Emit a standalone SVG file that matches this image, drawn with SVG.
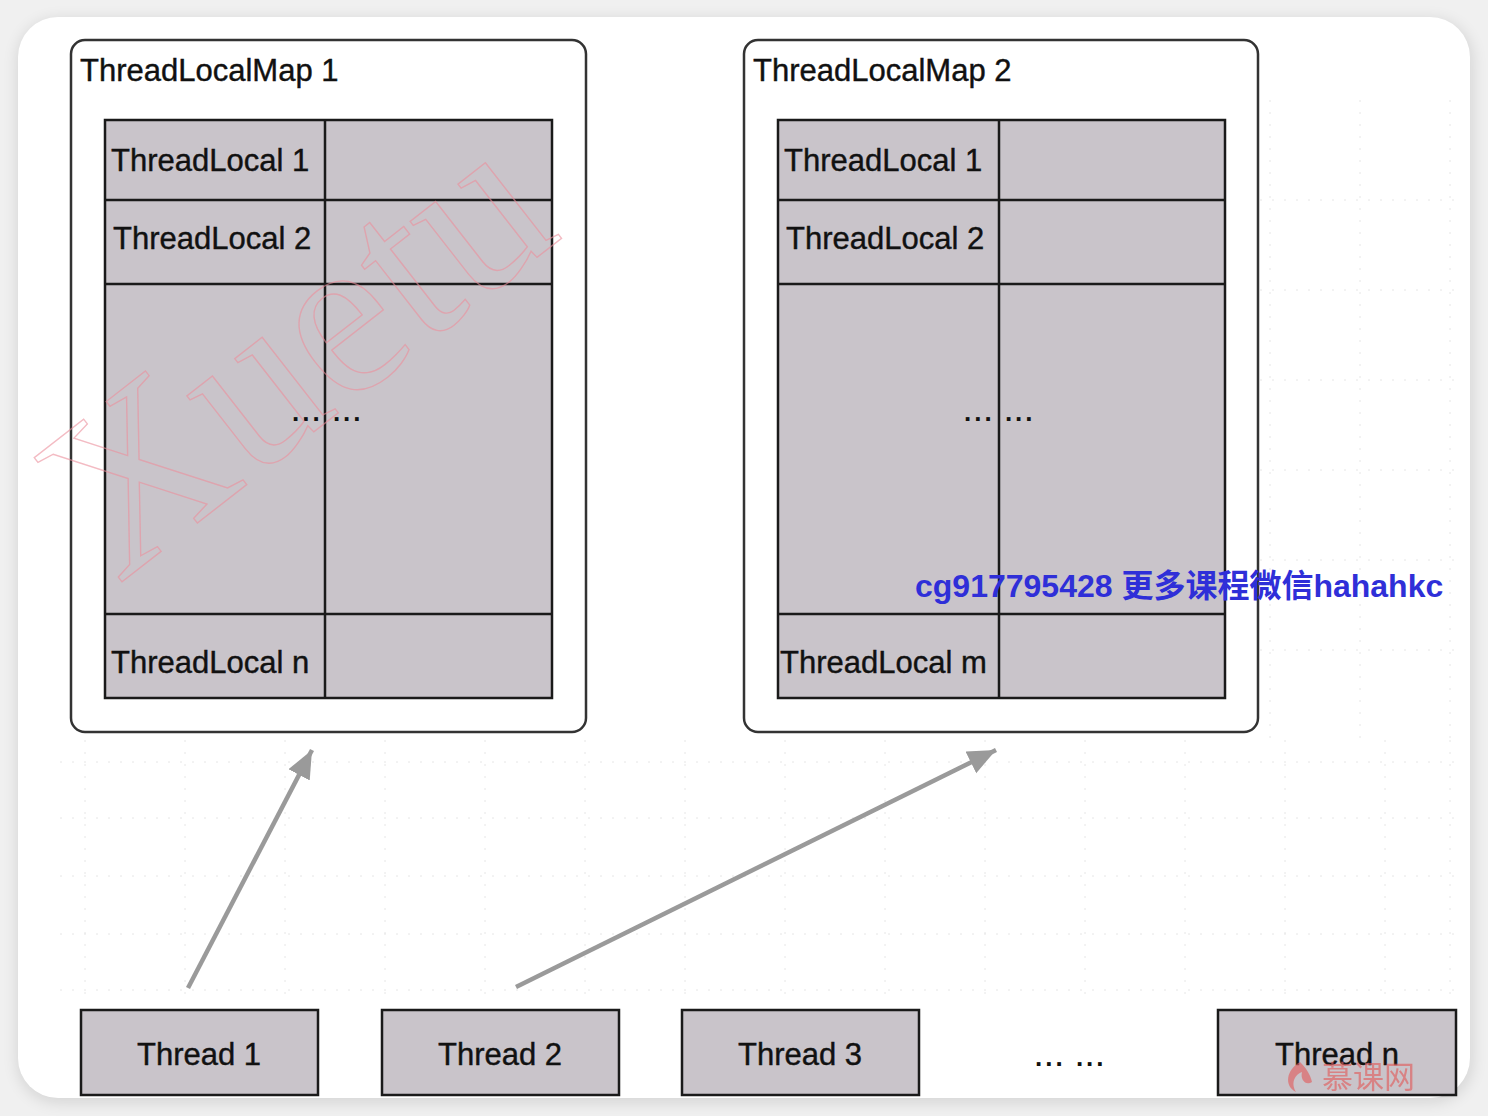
<svg xmlns="http://www.w3.org/2000/svg" width="1488" height="1116" viewBox="0 0 1488 1116">
<defs>
<style>
.map{fill:#ffffff;stroke:#333;stroke-width:2.5}
.cell{fill:#c9c4ca;stroke:#1a1a1a;stroke-width:2.5}
.ln{stroke:#1a1a1a;stroke-width:2.5}
.t{font-family:"Liberation Sans",Arial,sans-serif;font-size:31px;fill:#111;stroke:#111;stroke-width:0.4}
.tc{font-family:"Liberation Sans",Arial,sans-serif;font-size:31px;fill:#111;stroke:#111;stroke-width:0.4;text-anchor:middle}
.dots{font-family:"Liberation Sans",Arial,sans-serif;font-size:26px;fill:#111;font-weight:bold;letter-spacing:3px}
.conn{stroke:#9a9a9a;stroke-width:4.5;fill:none}
.grid{stroke:#e6e6e6;stroke-width:1;stroke-dasharray:2 10}
</style>
<marker id="ah" markerUnits="userSpaceOnUse" markerWidth="32" markerHeight="28" refX="28" refY="12" orient="auto">
<path d="M0,0 L28,12 L0,24 Z" fill="#9a9a9a"/>
</marker>
<filter id="sh" x="-5%" y="-5%" width="110%" height="110%">
<feGaussianBlur stdDeviation="8"/>
</filter>
</defs>
<rect width="1488" height="1116" fill="#f0f0f0"/>
<rect x="18" y="20" width="1454" height="1082" rx="40" fill="#000" opacity="0.12" filter="url(#sh)"/>
<rect x="18" y="17" width="1452" height="1081" rx="40" fill="#ffffff"/>
<g id="grid">
<path class="grid" d="M85,740 V1000 M185,740 V1000 M285,740 V1000 M385,740 V1000 M485,740 V1000 M585,740 V1000 M685,740 V1000 M785,740 V1000 M885,740 V1000 M985,740 V1000 M1085,740 V1000 M1185,740 V1000 M1285,740 V1000 M1385,740 V1000 M1450,740 V1000"/>
<path class="grid" d="M60,762 H1460 M60,818 H1460 M60,876 H1460 M60,934 H1460 M60,990 H1460 M1270,100 V740 M1360,100 V740 M1450,100 V740 M1260,200 H1460 M1260,290 H1460 M1260,380 H1460 M1260,470 H1460 M1260,560 H1460 M1260,650 H1460"/>
</g>
<g id="map1">
<rect class="map" x="71" y="40" width="515" height="692" rx="14"/>
<text class="t" x="80" y="81">ThreadLocalMap 1</text>
<rect class="cell" x="105" y="120" width="447" height="578"/>
<line class="ln" x1="325" y1="120" x2="325" y2="698"/>
<line class="ln" x1="105" y1="200" x2="552" y2="200"/>
<line class="ln" x1="105" y1="284" x2="552" y2="284"/>
<line class="ln" x1="105" y1="614" x2="552" y2="614"/>
<text class="t" x="111" y="171">ThreadLocal 1</text>
<text class="t" x="113" y="249">ThreadLocal 2</text>
<text class="t" x="111" y="673">ThreadLocal n</text>
<text class="dots" x="292" y="421">... ...</text>
</g>
<g id="map2">
<rect class="map" x="744" y="40" width="514" height="692" rx="14"/>
<text class="t" x="753" y="81">ThreadLocalMap 2</text>
<rect class="cell" x="778" y="120" width="447" height="578"/>
<line class="ln" x1="999" y1="120" x2="999" y2="698"/>
<line class="ln" x1="778" y1="200" x2="1225" y2="200"/>
<line class="ln" x1="778" y1="284" x2="1225" y2="284"/>
<line class="ln" x1="778" y1="614" x2="1225" y2="614"/>
<text class="t" x="784" y="171">ThreadLocal 1</text>
<text class="t" x="786" y="249">ThreadLocal 2</text>
<text class="t" x="780" y="673">ThreadLocal m</text>
<text class="dots" x="964" y="421">... ...</text>
</g>
<g id="connectors">
<line class="conn" x1="188" y1="988" x2="312" y2="750" marker-end="url(#ah)"/>
<line class="conn" x1="516" y1="987" x2="996" y2="750" marker-end="url(#ah)"/>
</g>
<g id="thread1">
<rect class="cell" x="81" y="1010" width="237" height="85"/>
<text class="tc" x="199" y="1065">Thread 1</text>
</g>
<g id="thread2">
<rect class="cell" x="382" y="1010" width="237" height="85"/>
<text class="tc" x="500" y="1065">Thread 2</text>
</g>
<g id="thread3">
<rect class="cell" x="682" y="1010" width="237" height="85"/>
<text class="tc" x="800" y="1065">Thread 3</text>
</g>
<g id="ellipsis">
<text class="dots" x="1035" y="1066">... ...</text>
</g>
<g id="threadn">
<rect class="cell" x="1218" y="1010" width="238" height="85"/>
<text class="tc" x="1337" y="1065">Thread n</text>
</g>
<g id="watermarks">
<text x="118" y="585" transform="rotate(-38 118 585)" font-family="'Liberation Serif',serif" font-size="232" fill="none" stroke="#ec8f9c" stroke-width="1.4" opacity="0.6">Xuetu</text>
<text x="915" y="597" font-family="'Liberation Sans','Noto Sans CJK SC',sans-serif" font-size="32" font-weight="bold" fill="#2f2fd8">cg917795428 更多课程微信hahahkc</text>
<path d="M1300,1062 c-14,8 -16,24 -4,30 c-6,-10 0,-18 6,-20 c-2,8 4,14 10,10 c-2,-8 -6,-14 -12,-20 Z" fill="#e06060" opacity="0.65"/>
<text x="1322" y="1088" font-family="'Noto Sans CJK SC',sans-serif" font-size="31" fill="#e06060" opacity="0.65">慕课网</text>
</g>
</svg>
